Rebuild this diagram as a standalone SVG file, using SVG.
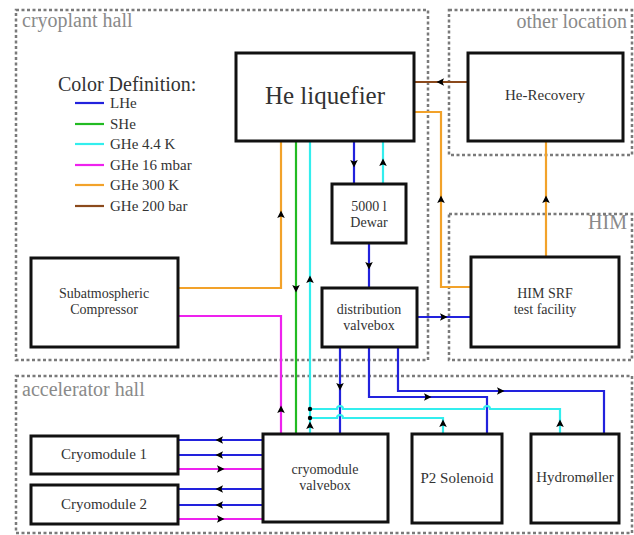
<svg xmlns="http://www.w3.org/2000/svg" xmlns:xlink="http://www.w3.org/1999/xlink" width="634" height="535" viewBox="0 0 634 535">
<style>
.zone{fill:none;stroke:#7a7a7a;stroke-width:2.5;stroke-dasharray:3 2.5}
.zl{font-family:"Liberation Serif","DejaVu Serif",serif;font-size:20px;fill:#8a8a8a}
.box{fill:#fff;stroke:#111;stroke-width:3}
.t{font-family:"Liberation Serif","DejaVu Serif",serif;font-size:15px;fill:#333;text-anchor:middle}
.t2{font-family:"Liberation Serif","DejaVu Serif",serif;font-size:14px;fill:#333;text-anchor:middle}
.lg{font-family:"Liberation Serif","DejaVu Serif",serif;font-size:15px;fill:#333}
.w{fill:none;stroke-width:2.2}
.lhe{stroke:#2222dd}.she{stroke:#22bb22}.g44{stroke:#33eeee}.g16{stroke:#ee22ee}.g300{stroke:#f2a22a}.g200{stroke:#8b4a1c}
</style>
<defs>
<path id="ah" d="M4.5,0 L-3,-3.8 L-1.5,0 L-3,3.8 Z" fill="#000"/>
</defs>
<rect width="634" height="535" fill="#fff"/>
<g id="zones">
<rect class="zone" x="16" y="10" width="412" height="350"/>
<rect class="zone" x="449" y="10" width="183" height="145"/>
<rect class="zone" x="449" y="214" width="183" height="146"/>
<rect class="zone" x="16" y="376" width="616" height="157"/>
<text class="zl" x="22" y="27">cryoplant hall</text>
<text class="zl" x="627" y="28" text-anchor="end">other location</text>
<text class="zl" x="627" y="229" text-anchor="end">HIM</text>
<text class="zl" x="22" y="396">accelerator hall</text>
</g>
<g id="legend">
<text x="58" y="91" style="font-family:'Liberation Serif','DejaVu Serif',serif;font-size:20px;fill:#333">Color Definition:</text>
<line class="w lhe" x1="75" y1="103" x2="104" y2="103"/>
<line class="w she" x1="75" y1="124" x2="104" y2="124"/>
<line class="w g44" x1="75" y1="144" x2="104" y2="144"/>
<line class="w g16" x1="75" y1="165" x2="104" y2="165"/>
<line class="w g300" x1="75" y1="185" x2="104" y2="185"/>
<line class="w g200" x1="75" y1="206" x2="104" y2="206"/>
<text class="lg" x="110" y="108">LHe</text>
<text class="lg" x="110" y="129">SHe</text>
<text class="lg" x="110" y="149">GHe 4.4 K</text>
<text class="lg" x="110" y="170">GHe 16 mbar</text>
<text class="lg" x="110" y="190">GHe 300 K</text>
<text class="lg" x="110" y="211">GHe 200 bar</text>
</g>
<g id="connectors">
<path class="w g200" d="M468,82 H414"/>
<path class="w g300" d="M471,287 H441 V112 H414"/>
<path class="w g300" d="M546,257 V141"/>
<path class="w lhe" d="M417,317 H471"/>
<path class="w lhe" d="M354,141 V184"/>
<path class="w g44" d="M383,184 V141"/>
<path class="w lhe" d="M369,243 V288"/>
<path class="w g300" d="M178,288 H281 V141"/>
<path class="w she" d="M296,141 V434"/>
<path class="w g44" d="M310,434 V141"/>
<path class="w g16" d="M178,316 H281 V434"/>
<path class="w lhe" d="M340,347 V434"/>
<path class="w lhe" d="M369,347 V397 H487 V434"/>
<path class="w lhe" d="M398,347 V391 H604 V434"/>
<path class="w g44" d="M310,409 H337 a3,3 0 0 1 6,0 H484 a3,3 0 0 1 6,0 H560 V434"/>
<path class="w g44" d="M310,418 H337 a3,3 0 0 1 6,0 H443 V434"/>
<circle cx="310" cy="409" r="2.2" fill="#000"/>
<circle cx="310" cy="418" r="2.2" fill="#000"/>
<path class="w lhe" d="M178,440 H263"/>
<path class="w lhe" d="M178,455 H263"/>
<path class="w g16" d="M178,469 H263"/>
<path class="w lhe" d="M178,489 H263"/>
<path class="w lhe" d="M178,505 H263"/>
<path class="w g16" d="M178,519 H263"/>
<use xlink:href="#ah" transform="translate(441,82) rotate(180)"/>
<use xlink:href="#ah" transform="translate(441,200) rotate(-90)"/>
<use xlink:href="#ah" transform="translate(546,200) rotate(-90)"/>
<use xlink:href="#ah" transform="translate(443,317)"/>
<use xlink:href="#ah" transform="translate(354,163) rotate(90)"/>
<use xlink:href="#ah" transform="translate(383,163) rotate(-90)"/>
<use xlink:href="#ah" transform="translate(369,265) rotate(90)"/>
<use xlink:href="#ah" transform="translate(281,215) rotate(-90)"/>
<use xlink:href="#ah" transform="translate(296,288) rotate(90)"/>
<use xlink:href="#ah" transform="translate(310,280) rotate(-90)"/>
<use xlink:href="#ah" transform="translate(281,410) rotate(-90)"/>
<use xlink:href="#ah" transform="translate(340,386) rotate(90)"/>
<use xlink:href="#ah" transform="translate(427,397)"/>
<use xlink:href="#ah" transform="translate(500,391)"/>
<use xlink:href="#ah" transform="translate(310,426) rotate(-90)"/>
<use xlink:href="#ah" transform="translate(443,424) rotate(-90)"/>
<use xlink:href="#ah" transform="translate(560,424) rotate(-90)"/>
<use xlink:href="#ah" transform="translate(220,440) rotate(180)"/>
<use xlink:href="#ah" transform="translate(220,455) rotate(180)"/>
<use xlink:href="#ah" transform="translate(220,469)"/>
<use xlink:href="#ah" transform="translate(220,489) rotate(180)"/>
<use xlink:href="#ah" transform="translate(220,505) rotate(180)"/>
<use xlink:href="#ah" transform="translate(220,519)"/>
</g>
<g id="he-liquefier">
<rect class="box" x="236" y="53" width="178" height="88"/>
<text class="t" x="325" y="104" style="font-size:25px">He liquefier</text>
</g>
<g id="he-recovery">
<rect class="box" x="468" y="53" width="155" height="88"/>
<text class="t" x="545" y="100">He-Recovery</text>
</g>
<g id="dewar">
<rect class="box" x="332" y="184" width="74" height="59"/>
<text class="t2" x="369" y="211">5000 l</text>
<text class="t2" x="369" y="227">Dewar</text>
</g>
<g id="distribution-valvebox">
<rect class="box" x="322" y="288" width="95" height="59"/>
<text class="t2" x="369" y="314">distribution</text>
<text class="t2" x="369" y="330">valvebox</text>
</g>
<g id="him-srf">
<rect class="box" x="471" y="257" width="148" height="90"/>
<text class="t2" x="545" y="298">HIM SRF</text>
<text class="t2" x="545" y="314">test facility</text>
</g>
<g id="compressor">
<rect class="box" x="31" y="258" width="147" height="89"/>
<text class="t2" x="104" y="298">Subatmospheric</text>
<text class="t2" x="104" y="314">Compressor</text>
</g>
<g id="cryomodule-1">
<rect class="box" x="31" y="436" width="147" height="38"/>
<text class="t" x="104" y="459">Cryomodule 1</text>
</g>
<g id="cryomodule-2">
<rect class="box" x="31" y="485" width="147" height="39"/>
<text class="t" x="104" y="509">Cryomodule 2</text>
</g>
<g id="cryomodule-valvebox">
<rect class="box" x="263" y="434" width="125" height="88"/>
<text class="t2" x="325" y="474">cryomodule</text>
<text class="t2" x="325" y="490">valvebox</text>
</g>
<g id="p2-solenoid">
<rect class="box" x="412" y="434" width="90" height="89"/>
<text class="t" x="457" y="483">P2 Solenoid</text>
</g>
<g id="hydromoller">
<rect class="box" x="531" y="434" width="88" height="89"/>
<text class="t" x="575" y="482">Hydromøller</text>
</g>
</svg>
